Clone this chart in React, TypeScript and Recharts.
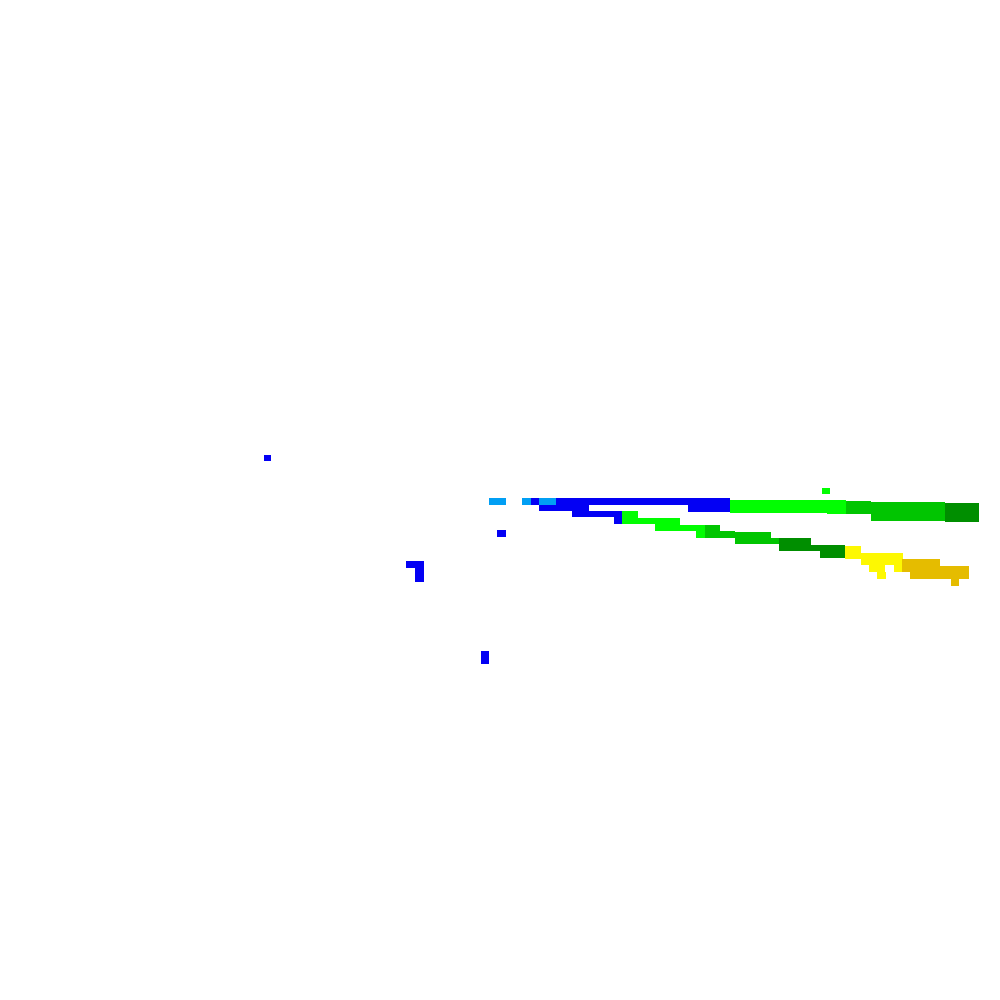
import { ComposedChart, XAxis, YAxis, ReferenceArea } from "recharts";

// radar returns, one list per reflectivity class: [x0, x1, y0, y1] in grid units
type Cell = [number, number, number, number];

const dbz15: Cell[] = [
  [489, 506, 498, 505],
  [522, 531, 498, 505],
  [539, 556, 498, 505],
];

const dbz20: Cell[] = [
  [531, 539, 498, 505],
  [556, 730, 498, 505],
  [688, 730, 505, 512],
  [539, 589, 505, 511],
  [572, 622, 511, 517],
  [614, 622, 517, 524],
  [497, 506, 530, 537],
  [264, 271, 455, 461],
  [406, 424, 561, 568],
  [415, 424, 568, 582],
  [481, 489, 651, 664],
];

const dbz25: Cell[] = [
  [622, 638, 511, 524],
  [638, 680, 518, 524],
  [655, 680, 524, 531],
  [680, 705, 525, 531],
  [696, 705, 531, 538],
  [730, 846, 500, 513],
  [827, 846, 513, 514],
  [822, 830, 488, 494],
];

const dbz30: Cell[] = [
  [705, 720, 525, 538],
  [720, 735, 531, 538],
  [735, 771, 532, 544],
  [771, 779, 538, 544],
  [846, 871, 501, 514],
  [871, 945, 502, 521],
];

const dbz35: Cell[] = [
  [779, 811, 538, 551],
  [811, 820, 545, 551],
  [820, 845, 545, 558],
  [945, 979, 503, 522],
];

const dbz40: Cell[] = [
  [845, 861, 546, 559],
  [861, 903, 553, 565],
  [869, 885, 565, 572],
  [877, 886, 572, 579],
  [894, 903, 565, 572],
];

const dbz45: Cell[] = [
  [902, 910, 559, 572],
  [910, 940, 559, 579],
  [940, 969, 566, 579],
  [951, 959, 579, 586],
];

const levels: [Cell[], string][] = [
  [dbz15, "#019ff4"],
  [dbz20, "#0300f4"],
  [dbz25, "#02fd02"],
  [dbz30, "#01c501"],
  [dbz35, "#008e00"],
  [dbz40, "#fdf802"],
  [dbz45, "#e5bc00"],
];

export default function App() {
  return (
    <div style={{ position: "absolute", left: 0, top: 0, width: 1000, height: 1000 }}>
      <ComposedChart width={1000} height={1000} margin={{ top: 0, right: 0, bottom: 0, left: 0 }}>
        <XAxis type="number" dataKey="x" domain={[0, 1000]} hide allowDataOverflow />
        <YAxis type="number" dataKey="y" domain={[0, 1000]} reversed hide allowDataOverflow />
        {levels.map(([cells, color], li) =>
          cells.map(([x0, x1, y0, y1], i) => (
            <ReferenceArea
              key={`${li}-${i}`}
              x1={x0}
              x2={x1}
              y1={y0}
              y2={y1}
              fill={color}
              fillOpacity={1}
              stroke="none"
              ifOverflow="visible"
            />
          ))
        )}
      </ComposedChart>
    </div>
  );
}
